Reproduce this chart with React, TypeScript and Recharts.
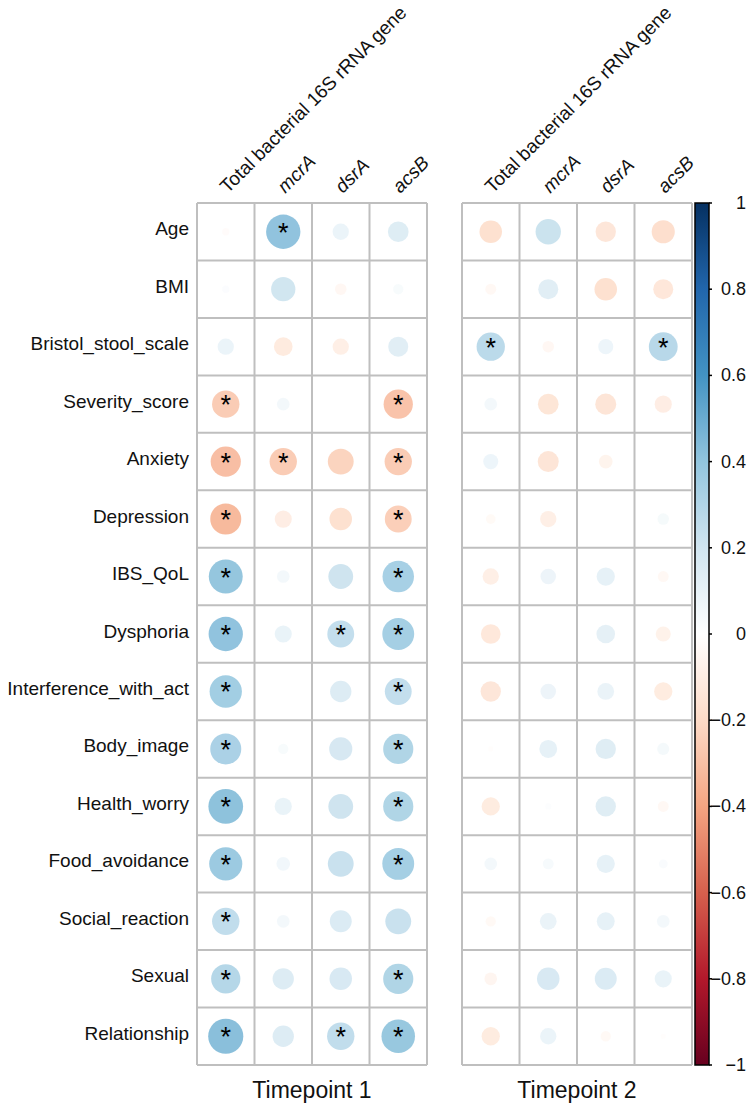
import React from 'react';
import {
  ScatterChart,
  Scatter,
  XAxis,
  YAxis,
  ZAxis,
  ReferenceLine,
  BarChart,
  Bar,
} from 'recharts';

const rowNames = [
  'Age', 'BMI', 'Bristol_stool_scale', 'Severity_score', 'Anxiety', 'Depression', 'IBS_QoL',
  'Dysphoria', 'Interference_with_act', 'Body_image', 'Health_worry', 'Food_avoidance',
  'Social_reaction', 'Sexual', 'Relationship',
];
const geneNames = ['Total bacterial 16S rRNA gene', 'mcrA', 'dsrA', 'acsB'];
const italicGenes = [false, true, true, true];

// correlation coefficients, one row per clinical variable, columns follow geneNames
const timepoint1 = [
  [-0.02, 0.44, 0.1, 0.16],
  [0.02, 0.22, -0.05, 0.04],
  [0.1, -0.13, -0.1, 0.15],
  [-0.28, 0.06, 0, -0.32],
  [-0.34, -0.28, -0.25, -0.28],
  [-0.36, -0.11, -0.19, -0.27],
  [0.43, 0.06, 0.23, 0.37],
  [0.44, 0.11, 0.27, 0.38],
  [0.39, 0, 0.17, 0.27],
  [0.36, 0.04, 0.2, 0.34],
  [0.45, 0.11, 0.23, 0.34],
  [0.41, 0.07, 0.25, 0.38],
  [0.28, 0.06, 0.18, 0.25],
  [0.32, 0.17, 0.19, 0.34],
  [0.46, 0.17, 0.28, 0.42],
];
const timepoint1Sig = [
  [0, 1, 0, 0],
  [0, 0, 0, 0],
  [0, 0, 0, 0],
  [1, 0, 0, 1],
  [1, 1, 0, 1],
  [1, 0, 0, 1],
  [1, 0, 0, 1],
  [1, 0, 1, 1],
  [1, 0, 0, 1],
  [1, 0, 0, 1],
  [1, 0, 0, 1],
  [1, 0, 0, 1],
  [1, 0, 0, 0],
  [1, 0, 0, 1],
  [1, 0, 1, 1],
];

const timepoint2 = [
  [-0.19, 0.24, -0.155, -0.2],
  [-0.045, 0.15, -0.19, -0.15],
  [0.3, -0.05, 0.085, 0.31],
  [0.06, -0.16, -0.165, -0.11],
  [0.085, -0.165, -0.07, 0],
  [-0.035, -0.1, 0, 0.05],
  [-0.1, 0.09, 0.125, -0.045],
  [-0.145, 0, 0.13, -0.085],
  [-0.155, 0.09, 0.105, -0.125],
  [-0.01, 0.12, 0.155, 0.055],
  [-0.125, 0.015, 0.155, -0.045],
  [0.06, 0.045, 0.125, 0.03],
  [-0.04, 0.105, 0.12, 0.06],
  [-0.06, 0.19, 0.18, 0.11],
  [-0.125, 0.1, -0.04, -0.01],
];
const timepoint2Sig = [
  [0, 0, 0, 0],
  [0, 0, 0, 0],
  [1, 0, 0, 1],
  [0, 0, 0, 0],
  [0, 0, 0, 0],
  [0, 0, 0, 0],
  [0, 0, 0, 0],
  [0, 0, 0, 0],
  [0, 0, 0, 0],
  [0, 0, 0, 0],
  [0, 0, 0, 0],
  [0, 0, 0, 0],
  [0, 0, 0, 0],
  [0, 0, 0, 0],
  [0, 0, 0, 0],
];

const legendTicks = [-1, -0.8, -0.6, -0.4, -0.2, 0, 0.2, 0.4, 0.6, 0.8, 1];
const legendRange = [{ name: 'corr', span: [-1, 1] }];

// RdBu, -1 .. 1
const palette = [
  '#67001F', '#B2182B', '#D6604D', '#F4A582', '#FDDBC7', '#FFFFFF',
  '#D1E5F0', '#92C5DE', '#4393C3', '#2166AC', '#053061',
];

const FONT = '"Liberation Sans", Arial, Helvetica, sans-serif';
const CELL = 57.5;
const MAX_R = 0.45 * CELL;
const GRID = '#bfbfbf';

const hexToRgb = (h: string) => [1, 3, 5].map((i) => parseInt(h.slice(i, i + 2), 16));

const corrColor = (r: number) => {
  const t = ((r + 1) / 2) * 10;
  const i = Math.min(9, Math.max(0, Math.floor(t)));
  const f = t - i;
  const a = hexToRgb(palette[i]);
  const b = hexToRgb(palette[i + 1]);
  const c = a.map((v, k) => Math.round(v + (b[k] - v) * f));
  return `rgb(${c[0]},${c[1]},${c[2]})`;
};

const toPoints = (vals: number[][], sig: number[][]) =>
  vals.flatMap((row, ri) =>
    row.map((r, ci) => ({ col: ci, row: ri, r, mag: Math.abs(r), sig: sig[ri][ci] === 1 }))
  );

const CorrDot = (props: any) => {
  const { cx, cy, size, payload } = props;
  const rad = Math.sqrt((size || 0) / Math.PI);
  return (
    <g>
      {rad > 0.3 && <circle cx={cx} cy={cy} r={rad} fill={corrColor(payload.r)} fillOpacity={0.88} />}
      {payload.sig && (
        <text x={cx} y={cy + 10} textAnchor="middle" fontSize={27} fill="#000" fontFamily={FONT}>
          *
        </text>
      )}
    </g>
  );
};

const GeneTick = (props: any) => {
  const { x, y, payload } = props;
  const i = payload.value;
  const ax = x + 2;
  const ay = y - 9;
  return (
    <text
      x={ax}
      y={ay}
      transform={`rotate(-45 ${ax} ${ay})`}
      textAnchor="start"
      fontSize={19}
      fontStyle={italicGenes[i] ? 'italic' : 'normal'}
      fill="#111"
      fontFamily={FONT}
    >
      {geneNames[i]}
    </text>
  );
};

const RowTick = (props: any) => {
  const { x, y, payload } = props;
  return (
    <text x={x} y={y + 3.5} textAnchor="end" fontSize={19} fill="#111" fontFamily={FONT}>
      {rowNames[payload.value]}
    </text>
  );
};

const LegendTick = (props: any) => {
  const { x, y, payload } = props;
  const v = payload.value;
  const txt = (v < 0 ? '\u2212' : '') + String(Math.abs(v));
  return (
    <text x={x + 34} y={y + 6} textAnchor="end" fontSize={18} fill="#111" fontFamily={FONT}>
      {txt}
    </text>
  );
};

const rowCenters = rowNames.map((_, i) => i);
const rowEdges = [...rowNames.map((_, i) => i - 0.5), rowNames.length - 0.5];
const colCenters = geneNames.map((_, i) => i);
const colEdges = [...geneNames.map((_, i) => i - 0.5), geneNames.length - 0.5];

interface PanelProps {
  title: string;
  values: number[][];
  sig: number[][];
  showRows: boolean;
  width: number;
  left: number;
}

const Panel: React.FC<PanelProps> = ({ title, values, sig, showRows, width, left }) => (
  <div style={{ position: 'absolute', left, top: 0 }}>
    <ScatterChart
      width={width}
      height={1104}
      margin={{ top: 3, right: 13, bottom: 0, left: showRows ? 0 : 22 }}
    >
      <XAxis
        xAxisId="lab"
        type="number"
        dataKey="col"
        orientation="top"
        domain={[-0.5, 3.5]}
        ticks={colCenters}
        interval={0}
        height={200}
        tickSize={0}
        tickMargin={0}
        axisLine={false}
        tickLine={false}
        tick={<GeneTick />}
      />
      <XAxis
        xAxisId="title"
        type="number"
        orientation="bottom"
        domain={[-0.5, 3.5]}
        height={39}
        tick={false}
        axisLine={false}
        tickLine={false}
        label={{ value: title, position: 'insideBottom', offset: 6, fontSize: 23, fill: '#111', fontFamily: FONT }}
      />
      <YAxis
        yAxisId="lab"
        type="number"
        dataKey="row"
        reversed
        domain={[-0.5, 14.5]}
        ticks={rowCenters}
        interval={0}
        width={showRows ? 197 : 0}
        tickSize={0}
        tickMargin={8}
        axisLine={false}
        tickLine={false}
        tick={showRows ? <RowTick /> : false}
      />
      <ZAxis dataKey="mag" type="number" domain={[0, 1]} range={[0, Math.PI * MAX_R * MAX_R]} />
      {colEdges.map((v) => (
        <ReferenceLine key={`c${v}`} xAxisId="lab" yAxisId="lab" x={v} stroke={GRID} strokeWidth={2} />
      ))}
      {rowEdges.map((v) => (
        <ReferenceLine key={`r${v}`} xAxisId="lab" yAxisId="lab" y={v} stroke={GRID} strokeWidth={2} />
      ))}
      <Scatter
        xAxisId="lab"
        yAxisId="lab"
        data={toPoints(values, sig)}
        shape={<CorrDot />}
        isAnimationActive={false}
      />
    </ScatterChart>
  </div>
);

const ColorLegend = () => (
  <div style={{ position: 'absolute', left: 680, top: 0 }}>
    <BarChart
      width={72}
      height={1104}
      data={legendRange}
      barCategoryGap={0}
      margin={{ top: 203, right: 0, bottom: 39, left: 15 }}
    >
      <defs>
        <linearGradient id="corrGrad" x1="0" y1="0" x2="0" y2="1">
          {palette.map((c, i) => (
            <stop key={c} offset={`${i * 10}%`} stopColor={palette[palette.length - 1 - i]} />
          ))}
        </linearGradient>
      </defs>
      <XAxis dataKey="name" hide />
      <YAxis
        type="number"
        orientation="right"
        domain={[-1, 1]}
        ticks={legendTicks}
        interval={0}
        width={43}
        tickSize={3}
        tickMargin={0}
        axisLine={false}
        tickLine={{ stroke: '#000', strokeWidth: 1.5 }}
        tick={<LegendTick />}
      />
      <Bar dataKey="span" fill="url(#corrGrad)" stroke="#000" strokeWidth={1.5} isAnimationActive={false} />
    </BarChart>
  </div>
);

export default function App() {
  return (
    <div style={{ position: 'absolute', left: 0, top: 0, width: 752, height: 1104, background: '#fff', fontFamily: FONT }}>
      <Panel title="Timepoint 1" values={timepoint1} sig={timepoint1Sig} showRows width={440} left={0} />
      <Panel title="Timepoint 2" values={timepoint2} sig={timepoint2Sig} showRows={false} width={265} left={440} />
      <ColorLegend />
    </div>
  );
}
